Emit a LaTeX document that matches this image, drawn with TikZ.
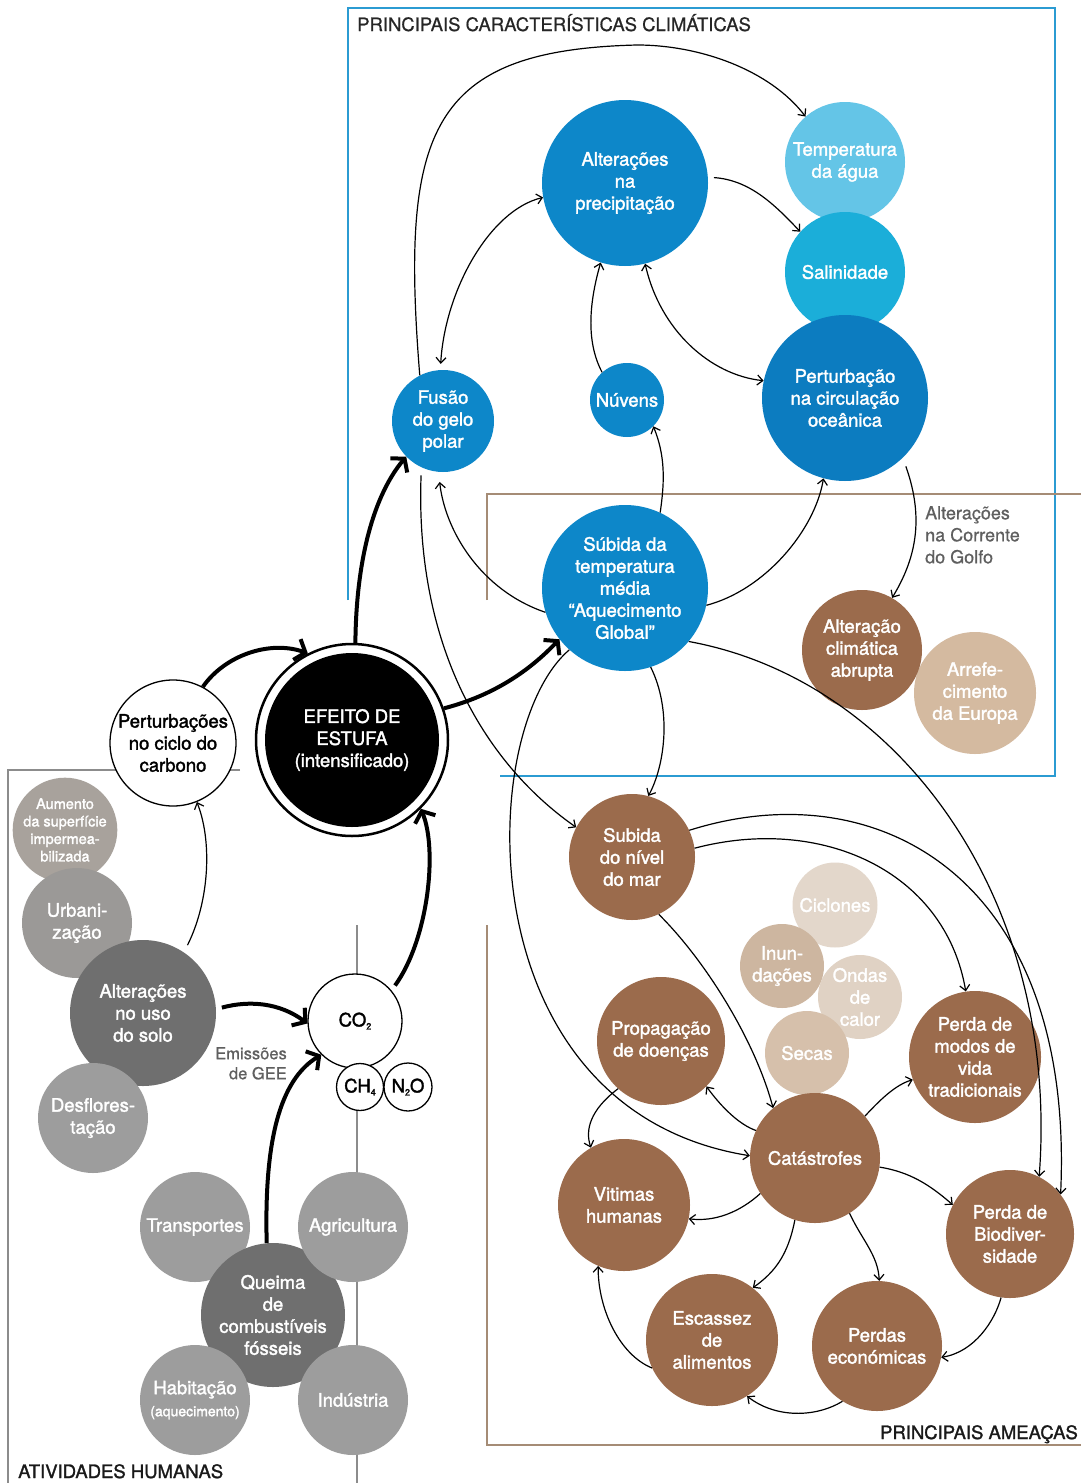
\documentclass[tikz,border=0pt]{standalone}
\usepackage{fontspec}
\setmainfont{TeX Gyre Heros}
\newfontfamily\medfont{TeX Gyre Heros}[RawFeature={embolden=1.8}]
\newfontfamily\ttlfont{TeX Gyre Heros}[RawFeature={embolden=0.6}]
\newfontfamily\secfont{TeX Gyre Heros}[RawFeature={embolden=1.4}]
\usetikzlibrary{arrows.meta}
\definecolor{bdark}{RGB}{13,135,201}
\definecolor{bpert}{RGB}{12,124,192}
\definecolor{bsal}{RGB}{27,174,217}
\definecolor{btemp}{RGB}{100,197,231}
\definecolor{brn}{RGB}{155,107,76}
\definecolor{arref}{RGB}{212,186,160}
\definecolor{cic}{RGB}{227,215,203}
\definecolor{inun}{RGB}{205,182,160}
\definecolor{ondas}{RGB}{224,210,196}
\definecolor{secas}{RGB}{214,192,171}
\definecolor{aum}{RGB}{168,162,156}
\definecolor{urb}{RGB}{155,153,151}
\definecolor{gdark}{RGB}{111,111,111}
\definecolor{gmid}{RGB}{157,157,157}
\definecolor{boxblue}{RGB}{43,155,210}
\definecolor{boxbrown}{RGB}{165,140,118}
\definecolor{boxgray}{RGB}{140,140,140}
\definecolor{lbl}{RGB}{95,95,95}
\begin{document}
\begin{tikzpicture}[x=1pt,y=1pt,
  bub/.style={circle, inner sep=0pt, align=center, text=white, font=\medfont\fontsize{18.5}{22}\selectfont},
  wbub/.style={circle, inner sep=0pt, align=center, text=black, fill=white, draw=black, line width=1.3pt, font=\medfont\fontsize{18.5}{22}\selectfont},
  conn/.style={line width=1.2pt, -{Straight Barb[length=5.5pt,width=10pt]}},
  bconn/.style={line width=1.2pt, {Straight Barb[length=5.5pt,width=10pt]}-{Straight Barb[length=5.5pt,width=10pt]}},
  heavy/.style={line width=4pt, -{Straight Barb[length=9pt,width=22pt]}},
  ttl/.style={inner sep=0pt, font=\ttlfont\fontsize{18.5}{22}\selectfont, text=black!85},
  sec/.style={inner sep=0pt, font=\secfont\fontsize{18.5}{22}\selectfont, text=black!90},
  lab/.style={inner sep=0pt, text=lbl}
]
\useasboundingbox (0,0) rectangle (1081,-1483);
\fill[white] (0,0) rectangle (1081,-1483);

% frames
\draw[boxblue, line width=2pt] (348,-600) -- (348,-8) -- (1055,-8) -- (1055,-776) -- (500,-776);
\draw[boxbrown, line width=1.6pt] (487,-600) -- (487,-494) -- (1081,-494);
\draw[boxbrown, line width=1.6pt] (487,-925) -- (487,-1445) -- (1081,-1445);
\draw[boxgray, line width=1.6pt] (240,-770) -- (8,-770) -- (8,-1483);
\draw[boxgray, line width=1.6pt] (357,-925) -- (357,-1483);

% titles
\node[ttl, anchor=base west] (t1) at (357,-31) {PRINCIPAIS CARACTERÍSTICAS CLIMÁTICAS};
\node[sec, anchor=base east] (t2) at (1078,-1439) {PRINCIPAIS AMEAÇAS};
\node[sec, anchor=base west] (t3) at (18,-1478) {ATIVIDADES HUMANAS};

% blue nodes
\node[bub, fill=btemp, minimum size=120pt] (tem) at (845,-162) {Temperatura\\da água};
\node[bub, fill=bsal, minimum size=120pt] (sal) at (845,-272) {Salinidade};
\node[bub, fill=bpert, minimum size=166pt] (per) at (845,-398) {Perturbação\\na circulação\\oceânica};
\node[bub, fill=bdark, minimum size=166pt] (pre) at (625,-183) {Alterações\\na\\precipitação};
\node[bub, fill=bdark, minimum size=102pt] (fus) at (443,-421) {Fusão\\do gelo\\polar};
\node[bub, fill=bdark, minimum size=74pt] (nuv) at (627,-400) {Núvens};
\node[bub, fill=bdark, minimum size=166pt] (sub) at (625,-588) {Súbida da\\temperatura\\média\\“Aquecimento\\Global”};
\node[bub, fill=arref, minimum size=122pt] (arr) at (975,-693) {Arrefe-\\cimento\\da Europa};
\node[bub, fill=brn, minimum size=120pt] (alt) at (862,-650) {Alteração\\climática\\abrupta};
\node[lab, anchor=north west, align=left, font=\ttlfont\fontsize{18}{22}\selectfont] (golfo) at (925,-506) {Alterações\\na Corrente\\do Golfo};

% central
\node[circle, fill=white, draw=black, line width=2.5pt, minimum size=192pt, inner sep=0pt] (ef) at (352,-740) {};
\node[bub, fill=black, minimum size=174pt] (efi) at (352,-740) {EFEITO DE\\ESTUFA\\(intensificado)};
\node[wbub, minimum size=126pt] (pcc) at (173,-743) {Perturbações\\no ciclo do\\carbono};

% human activities
\node[bub, fill=aum, minimum size=94pt, font=\medfont\fontsize{14.5}{17.5}\selectfont] (aum) at (65,-830) {Aumento\\da superfície\\impermea-\\bilizada};
\node[bub, fill=urb, minimum size=110pt] (urb) at (77,-923) {Urbani-\\zação};
\node[bub, fill=gdark, minimum size=146pt] (uso) at (143,-1013) {Alterações\\no uso\\do solo};
\node[bub, fill=gmid, minimum size=110pt] (des) at (93,-1118) {Desflores-\\tação};
\node[wbub, minimum size=94pt] (co) at (355,-1021) {CO{\fontsize{9}{9}\selectfont\raisebox{-3pt}{2}}};
\node[wbub, minimum size=47pt] (ch) at (360,-1087) {CH{\fontsize{9}{9}\selectfont\raisebox{-3pt}{4}}};
\node[wbub, minimum size=48pt] (no) at (408,-1087) {N{\fontsize{9}{9}\selectfont\raisebox{-3pt}{2}}O};
\node[lab, anchor=north east, align=right, font=\ttlfont\fontsize{16.5}{20}\selectfont] (gee) at (287,-1047) {Emissões\\de GEE};
\node[bub, fill=gmid, minimum size=110pt] (tra) at (195,-1227) {Transportes};
\node[bub, fill=gdark, minimum size=144pt] (qu) at (273,-1315) {Queima\\de\\combustíveis\\fósseis};
\node[bub, fill=gmid, minimum size=110pt] (agr) at (353,-1227) {Agricultura};
\node[bub, fill=gmid, minimum size=110pt] (hab) at (195,-1400) {Habitação\\{\fontsize{14}{16}\selectfont(aquecimento)}};
\node[bub, fill=gmid, minimum size=110pt] (ind) at (353,-1400) {Indústria};

% threats
\node[bub, fill=brn, minimum size=126pt] (sni) at (632,-857) {Subida\\do nível\\do mar};
\node[bub, fill=cic, minimum size=85pt] (cic) at (835,-905) {Ciclones};
\node[bub, fill=inun, minimum size=84pt] (inu) at (782,-966) {Inun-\\dações};
\node[bub, fill=ondas, minimum size=84pt] (ond) at (860,-997) {Ondas\\de\\calor};
\node[bub, fill=secas, minimum size=84pt] (sec) at (807,-1053) {Secas};
\node[bub, fill=brn, minimum size=128pt] (pro) at (661,-1041) {Propagação\\de doenças};
\node[bub, fill=brn, minimum size=132pt] (mod) at (975,-1057) {Perda de\\modos de\\vida\\tradicionais};
\node[bub, fill=brn, minimum size=130pt] (cat) at (815,-1158) {Catástrofes};
\node[bub, fill=brn, minimum size=132pt] (vit) at (624,-1205) {Vitimas\\humanas};
\node[bub, fill=brn, minimum size=128pt] (bio) at (1010,-1234) {Perda de\\Biodiver-\\sidade};
\node[bub, fill=brn, minimum size=132pt] (esc) at (712,-1340) {Escassez\\de\\alimentos};
\node[bub, fill=brn, minimum size=130pt] (eco) at (877,-1346) {Perdas\\económicas};

% blue connectors
\draw[conn] (fus.117) .. controls (400,-130) and (430,-50) .. (637,-45) .. controls (700,-45) and (770,-70) .. (tem.131);
\draw[bconn, shorten <=6pt] (fus.93) .. controls (445,-290) and (490,-210) .. (pre.190);
\draw[conn] (nuv.132) .. controls (585,-340) and (590,-300) .. (pre.253);
\draw[bconn] (pre.-76) .. controls (660,-330) and (710,-375) .. (per.168);
\draw[conn, shorten <=6pt] (pre.4) .. controls (750,-180) and (775,-205) .. (sal.138);
\draw[conn] (sub.65) .. controls (665,-480) and (665,-455) .. (nuv.-45);
\draw[conn, shorten >=10pt] (sub.197) .. controls (480,-590) and (445,-530) .. (fus.265);
\draw[conn] (sub.-12) .. controls (765,-590) and (815,-530) .. (per.255);
\draw[conn, shorten <=9pt] (per.-46) .. controls (925,-520) and (915,-560) .. (alt.60);
\draw[conn] (sub.-72) .. controls (672,-710) and (665,-765) .. (sni.75);
\draw[conn, shorten <=8pt] (fus.-115) .. controls (415,-640) and (480,-760) .. (sni.152);
\draw[conn] (sub.228) .. controls (475,-730) and (465,-1110) .. (cat.178);
\draw[conn] (sub.-40) .. controls (900,-680) and (1060,-900) .. (bio.63);

% threat connectors
\draw[conn] (sni.-65) .. controls (705,-960) and (755,-1040) .. (cat.130);
\draw[conn] (sni.8) .. controls (820,-815) and (945,-870) .. (mod.98);
\draw[conn] (sni.25) .. controls (880,-770) and (1075,-880) .. (bio.38);
\draw[conn] (cat.155) .. controls (740,-1125) and (722,-1108) .. (pro.-45);
\draw[conn] (pro.228) .. controls (590,-1110) and (585,-1130) .. (vit.120);
\draw[conn] (cat.40) .. controls (880,-1100) and (895,-1085) .. (mod.200);
\draw[conn] (cat.213) .. controls (740,-1212) and (715,-1222) .. (vit.-12);
\draw[conn] (cat.-8) .. controls (910,-1172) and (930,-1185) .. (bio.153);
\draw[conn] (cat.-108) .. controls (788,-1255) and (775,-1272) .. (esc.52);
\draw[conn] (cat.-58) .. controls (862,-1240) and (878,-1255) .. (eco.88);
\draw[conn] (bio.-98) .. controls (995,-1320) and (975,-1352) .. (eco.-10);
\draw[conn] (eco.-122) .. controls (815,-1418) and (775,-1418) .. (esc.-58);
\draw[conn] (esc.205) .. controls (620,-1355) and (598,-1310) .. (vit.-113);

% heavy connectors
\draw[heavy] (pcc.62) .. controls (225,-655) and (270,-640) .. (ef.117);
\draw[heavy] (ef.88) .. controls (356,-570) and (370,-500) .. (fus.224);
\draw[heavy] (ef.19) .. controls (495,-695) and (530,-670) .. (sub.218);
\draw[heavy, shorten <=6pt] (co.40) .. controls (428,-940) and (438,-850) .. (ef.-45);
\draw[heavy, shorten <=6pt] (uso.3) .. controls (250,-1000) and (280,-1003) .. (co.183);
\draw[heavy] (qu.95) .. controls (264,-1140) and (280,-1080) .. (co.225);
\draw[conn, shorten <=8pt] (uso.56) .. controls (210,-900) and (212,-840) .. (pcc.-68);
\end{tikzpicture}
\end{document}
